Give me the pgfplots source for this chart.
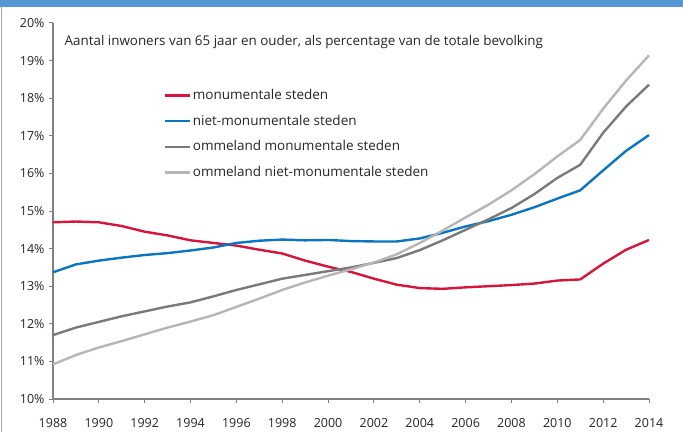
\documentclass[border=0pt]{standalone}
\usepackage{pgfplots}
\pgfplotsset{compat=1.18}
\usepackage{fontspec}
\setmainfont{Open Sans}
\definecolor{cred}{HTML}{D7153A}
\definecolor{cblue}{HTML}{0A75C0}
\definecolor{cdgray}{HTML}{7A7A7A}
\definecolor{clgray}{HTML}{B6B6B6}
\definecolor{cband}{HTML}{5597D2}
\definecolor{caxis}{HTML}{808080}
\begin{document}
\fontsize{13bp}{15bp}\selectfont
\begin{tikzpicture}[x=1bp,y=1bp]
\path[use as bounding box] (0,0) rectangle (683,432);
\fill[cband] (0,425) rectangle (683,432);
\draw[caxis!70,line width=1bp] (1,0) -- (1,425);
\begin{axis}[
  at={(53bp,33bp)}, anchor=south west,
  scale only axis, width=596bp, height=376bp,
  xmin=1988, xmax=2014, ymin=10, ymax=20,
  xtick={1988,1990,...,2014}, ytick={10,11,...,20},
  axis x line*=bottom, axis y line*=left,
  axis line style={caxis, line width=1.2bp},
  every tick/.style={caxis, line width=1bp},
  tick align=outside, major tick length=4bp,
  /pgf/number format/assume math mode=true,
  /pgf/number format/1000 sep={},
  yticklabel={\pgfmathprintnumber{\tick}\%},
  tick label style={font=\fontsize{12.5bp}{14bp}\selectfont, text=black!85},
  xticklabel style={yshift=-11bp},
  legend cell align=left,
  legend style={at={(0.18,0.835)}, anchor=north west, draw=none, fill=none,
    font=\fontsize{13.5bp}{15bp}\selectfont, row sep=9.5bp, text=black!85},
  legend image code/.code={\draw[#1] (0bp,0bp) -- (25bp,0bp);},
  every axis plot/.append style={line width=2.4bp, line join=round},
  clip=false,
]
\addplot[cred] coordinates {(1988,14.70)(1989,14.72)(1990,14.70)(1991,14.60)(1992,14.45)(1993,14.35)(1994,14.22)(1995,14.15)(1996,14.08)(1997,13.97)(1998,13.87)(1999,13.68)(2000,13.52)(2001,13.38)(2002,13.20)(2003,13.04)(2004,12.95)(2005,12.93)(2006,12.97)(2007,13.00)(2008,13.03)(2009,13.07)(2010,13.15)(2011,13.18)(2012,13.60)(2013,13.97)(2014,14.23)};
\addlegendentry{monumentale steden}
\addplot[cblue] coordinates {(1988,13.37)(1989,13.58)(1990,13.68)(1991,13.76)(1992,13.83)(1993,13.88)(1994,13.95)(1995,14.03)(1996,14.15)(1997,14.21)(1998,14.24)(1999,14.22)(2000,14.23)(2001,14.20)(2002,14.19)(2003,14.19)(2004,14.27)(2005,14.42)(2006,14.59)(2007,14.73)(2008,14.90)(2009,15.10)(2010,15.33)(2011,15.55)(2012,16.08)(2013,16.60)(2014,17.02)};
\addlegendentry{niet-monumentale steden}
\addplot[cdgray] coordinates {(1988,11.70)(1989,11.90)(1990,12.05)(1991,12.20)(1992,12.33)(1993,12.46)(1994,12.57)(1995,12.73)(1996,12.90)(1997,13.05)(1998,13.20)(1999,13.30)(2000,13.40)(2001,13.50)(2002,13.62)(2003,13.75)(2004,13.96)(2005,14.22)(2006,14.50)(2007,14.78)(2008,15.08)(2009,15.45)(2010,15.88)(2011,16.23)(2012,17.08)(2013,17.78)(2014,18.36)};
\addlegendentry{ommeland monumentale steden}
\addplot[clgray] coordinates {(1988,10.92)(1989,11.17)(1990,11.37)(1991,11.54)(1992,11.72)(1993,11.90)(1994,12.06)(1995,12.23)(1996,12.45)(1997,12.67)(1998,12.90)(1999,13.10)(2000,13.28)(2001,13.45)(2002,13.63)(2003,13.85)(2004,14.15)(2005,14.48)(2006,14.83)(2007,15.17)(2008,15.55)(2009,15.98)(2010,16.45)(2011,16.89)(2012,17.72)(2013,18.47)(2014,19.14)};
\addlegendentry{ommeland niet-monumentale steden}
\node[anchor=west, text=black!85, font=\fontsize{13.4bp}{15bp}\selectfont] at (rel axis cs:0.012,0.95) {Aantal inwoners van 65 jaar en ouder, als percentage van de totale bevolking};
\end{axis}
\end{tikzpicture}
\end{document}
